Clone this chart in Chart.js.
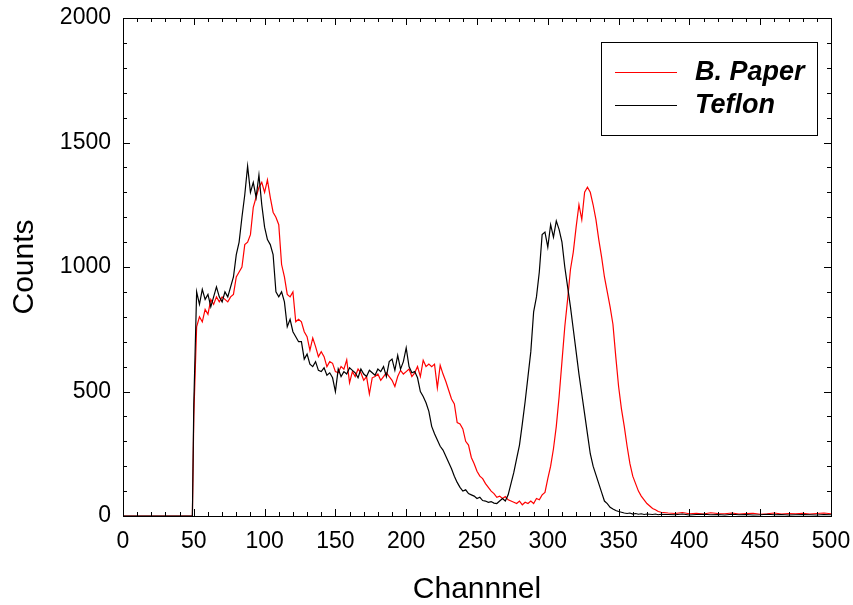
<!DOCTYPE html>
<html>
<head>
<meta charset="utf-8">
<script src="https://cdn.jsdelivr.net/npm/chart.js@4/dist/chart.umd.min.js"></script>
<style>
  body { margin: 0; background: #fff; }
</style>
</head>
<body>
<canvas id="chart" width="853" height="605"></canvas>
<script>
function range(a, b, step) {
    const out = [];
    for (let v = a; v <= b; v += step) out.push(v);
    return out;
}

// channels: flat start, every 2nd channel through the peaks, coarser tail
const channels = [0, 49, ...range(50, 378, 2), ...range(380, 500, 5)];

const seriesLabels = ['B. Paper', 'Teflon'];
const xTicks = range(0, 500, 50);
const yTicks = range(0, 2000, 500);

const paperCounts = [
    0, 0,
    400, 760, 800, 780, 830,       // 50-58
    810, 870, 850, 880, 860,       // 60-68
    880, 870, 860, 880, 890,       // 70-78
    960, 980, 1000, 1090, 1100,    // 80-88
    1130, 1240, 1280, 1320, 1340,  // 90-98
    1300, 1350, 1280, 1220, 1200,  // 100-108
    1170, 1010, 960, 890, 880,     // 110-118
    900, 780, 790, 780, 740,       // 120-128
    720, 665, 715, 680, 640,       // 130-138
    660, 640, 600, 620, 613,       // 140-148
    580, 575, 600, 590, 627,       // 150-158
    535, 580, 560, 590, 575,       // 160-168
    545, 560, 490, 555, 560,       // 170-178
    570, 545, 560, 575, 560,       // 180-188
    545, 520, 560, 585, 570,       // 190-198
    580, 590, 560, 575, 600,       // 200-208
    560, 625, 600, 610, 600,       // 210-218
    610, 515, 605, 570, 540,       // 220-228
    505, 470, 450, 375, 370,       // 230-238
    350, 300, 285, 235, 210,       // 240-248
    180, 160, 150, 130, 115,       // 250-258
    100, 90, 75, 80, 70,           // 260-268
    78, 65, 60, 55, 50,            // 270-278
    60, 45, 55, 50, 60,            // 280-288
    50, 70, 65, 85, 95,            // 290-298
    150, 200, 270, 360, 480,       // 300-308
    620, 760, 870, 990, 1060,      // 310-318
    1160, 1250, 1190, 1300, 1320,  // 320-328
    1300, 1250, 1190, 1110, 1040,  // 330-338
    960, 900, 840, 770, 640,       // 340-348
    520, 430, 360, 280, 210,       // 350-358
    160, 130, 100, 80, 65,         // 360-368
    50, 40, 30, 25, 18,            // 370-378
    15, 12, 10, 14, 9, 11, 8, 13, 10, 9, 12, 8, 10,   // 380-440
    11, 7, 9, 12, 8, 10, 9, 11, 8, 10, 12, 9          // 445-500
];

const teflonCounts = [
    0, 0,
    450, 900, 850, 910, 870,       // 50-58
    890, 840, 880, 920, 880,       // 60-68
    860, 900, 880, 920, 960,       // 70-78
    1050, 1100, 1200, 1290, 1405,  // 80-88
    1300, 1340, 1280, 1370, 1250,  // 90-98
    1160, 1110, 1090, 1050, 900,   // 100-108
    880, 900, 860, 760, 790,       // 110-118
    740, 720, 700, 700, 630,       // 120-128
    650, 610, 600, 620, 585,       // 130-138
    580, 595, 565, 575, 555,       // 140-148
    500, 590, 560, 580, 570,       // 150-158
    595, 585, 575, 555, 590,       // 160-168
    570, 560, 585, 575, 565,       // 170-178
    590, 580, 600, 560, 620,       // 180-188
    630, 585, 645, 590, 620,       // 190-198
    675, 600, 575, 580, 555,       // 200-208
    500, 480, 455, 420, 360,       // 210-218
    330, 305, 280, 265, 240,       // 220-228
    215, 190, 160, 135, 115,       // 230-238
    100, 105, 90, 85, 80,          // 240-248
    70, 75, 62, 60, 55,            // 250-258
    58, 52, 50, 60, 70,            // 260-268
    60, 85, 130, 175, 230,         // 270-278
    285, 370, 460, 560, 660,       // 280-288
    820, 880, 980, 1130, 1140,     // 290-298
    1080, 1170, 1120, 1185, 1150,  // 300-308
    1100, 1000, 920, 840, 750,     // 310-318
    660, 570, 490, 410, 330,       // 320-328
    250, 200, 165, 130, 95,        // 330-338
    60, 50, 35, 28, 22,            // 340-348
    18, 15, 12, 10, 12,            // 350-358
    8, 10, 7, 9, 6,                // 360-368
    8, 7, 6, 8, 5,                 // 370-378
    7, 6, 5, 8, 4, 6, 7, 5, 6, 4, 7, 5, 6,           // 380-440
    4, 5, 7, 5, 6, 4, 5, 6, 5, 4, 6, 5               // 445-500
];

const FONT = '"Liberation Sans", Arial, sans-serif';

const toPoints = counts => channels.map((c, i) => ({x: c, y: counts[i]}));

// fixed plot box: no extra room for the end labels
function noEdgePadding(s) {
    s.paddingLeft = 0;
    s.paddingRight = 0;
    s.paddingTop = 0;
    s.paddingBottom = 0;
}

// inward ticks on all four sides plus the plot frame
const frameTicks = {
    id: 'frameTicks',
    afterDraw(chart) {
        const {ctx, chartArea: a, scales: {x, y}} = chart;
        ctx.save();
        ctx.strokeStyle = '#000';
        ctx.lineWidth = 1;
        ctx.beginPath();
        for (let v = 0; v <= 500; v += 10) {
            const px = Math.round(x.getPixelForValue(v)) + 0.5;
            const len = v % 50 === 0 ? 7 : 4;
            ctx.moveTo(px, a.bottom); ctx.lineTo(px, a.bottom - len);
            ctx.moveTo(px, a.top); ctx.lineTo(px, a.top + len);
        }
        for (let v = 0; v <= 2000; v += 100) {
            const py = Math.round(y.getPixelForValue(v)) + 0.5;
            const len = v % 500 === 0 ? 7 : 4;
            ctx.moveTo(a.left, py); ctx.lineTo(a.left + len, py);
            ctx.moveTo(a.right, py); ctx.lineTo(a.right - len, py);
        }
        ctx.stroke();
        ctx.strokeRect(Math.round(a.left) + 0.5, Math.round(a.top) + 0.5,
            Math.round(a.right - a.left), Math.round(a.bottom - a.top));
        ctx.restore();
    }
};

// boxed legend in the upper right
const boxLegend = {
    id: 'boxLegend',
    afterDraw(chart) {
        const {ctx} = chart;
        ctx.save();
        ctx.strokeStyle = '#000';
        ctx.lineWidth = 1;
        ctx.strokeRect(601.5, 42.5, 216, 93);
        const colors = {'B. Paper': '#ff0000', 'Teflon': '#000000'};
        seriesLabels.forEach((label, i) => {
            const yy = 72 + i * 33;
            ctx.strokeStyle = colors[label];
            ctx.beginPath();
            ctx.moveTo(615, yy + 0.5);
            ctx.lineTo(677, yy + 0.5);
            ctx.stroke();
            ctx.fillStyle = '#000';
            ctx.font = 'italic bold 27px ' + FONT;
            ctx.textBaseline = 'middle';
            ctx.fillText(label, 695, yy + 1);
        });
        ctx.restore();
    }
};

new Chart(document.getElementById('chart'), {
    type: 'line',
    data: {
        datasets: [
            {
                label: seriesLabels[1],
                data: toPoints(teflonCounts),
                borderColor: '#000000',
                borderWidth: 1.2,
                pointRadius: 0,
                tension: 0
            },
            {
                label: seriesLabels[0],
                data: toPoints(paperCounts),
                borderColor: '#ff0000',
                borderWidth: 1.2,
                pointRadius: 0,
                tension: 0
            }
        ]
    },
    options: {
        responsive: false,
        animation: false,
        layout: {padding: {top: 18, right: 22, left: 0, bottom: 0}},
        plugins: {legend: {display: false}, tooltip: {enabled: false}},
        scales: {
            x: {
                type: 'linear',
                min: 0,
                max: 500,
                afterFit(s) { s.height = 89; noEdgePadding(s); },
                afterBuildTicks(s) { s.ticks = xTicks.map(v => ({value: v})); },
                grid: {display: false, drawTicks: false},
                border: {display: false},
                ticks: {padding: 12, maxRotation: 0, color: '#000', font: {family: FONT, size: 23},
                    callback: v => String(v)},
                title: {display: true, text: 'Channnel', color: '#000', padding: {top: 0, bottom: 0},
                    font: {family: FONT, size: 30, lineHeight: 1.0}}
            },
            y: {
                min: 0,
                max: 2000,
                afterFit(s) { s.width = 123; noEdgePadding(s); },
                afterBuildTicks(s) { s.ticks = yTicks.map(v => ({value: v})); },
                grid: {display: false, drawTicks: false},
                border: {display: false},
                ticks: {padding: 12, color: '#000', font: {family: FONT, size: 23},
                    callback: v => String(v)},
                title: {display: true, text: 'Counts', color: '#000', padding: {top: 10, bottom: 0},
                    font: {family: FONT, size: 30, lineHeight: 1.0}}
            }
        }
    },
    plugins: [frameTicks, boxLegend]
});
</script>
</body>
</html>
